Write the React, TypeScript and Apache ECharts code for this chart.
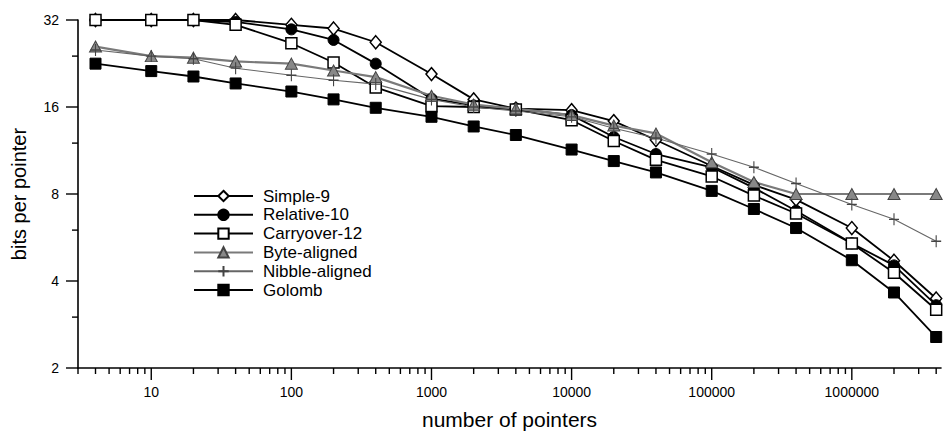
import React, { useEffect, useRef } from 'react';
import * as echarts from 'echarts';

const pointers = [4, 10, 20, 40, 100, 200, 400, 1000, 2000, 4000, 10000, 20000, 40000, 100000, 200000, 400000, 1000000, 2000000, 4000000];
const simple9 = [32, 32, 32, 32, 30.8, 29.9, 26.8, 20.8, 17.0, 15.8, 15.6, 14.3, 12.3, 10.0, 8.6, 7.65, 6.1, 4.7, 3.48];
const relative10 = [32, 32, 32, 31.5, 29.7, 27.3, 22.6, 17.1, 16.2, 15.8, 15.0, 12.6, 11.0, 9.9, 8.4, 7.0, 5.4, 4.53, 3.3];
const carryover12 = [32, 32, 32, 30.8, 26.6, 22.8, 18.7, 16.1, 16.0, 15.7, 14.4, 12.2, 10.5, 9.2, 7.9, 6.85, 5.39, 4.27, 3.18];
const byteAligned = [25.9, 24.0, 23.7, 23.0, 22.6, 21.4, 20.3, 17.5, 16.3, 15.8, 15.0, 13.8, 12.96, 10.3, 8.8, 8.0, 8.0, 8.0, 8.0];
const nibbleAligned = [25.2, 24.0, 23.5, 21.8, 20.6, 19.8, 19.2, 17.0, 16.0, 15.5, 14.8, 13.5, 12.5, 11.0, 9.9, 8.7, 7.36, 6.54, 5.49];
const golomb = [22.6, 21.3, 20.4, 19.3, 18.1, 17.0, 15.9, 14.8, 13.7, 12.8, 11.4, 10.4, 9.5, 8.2, 7.1, 6.1, 4.72, 3.65, 2.56];

const yMajorTicks = [2, 4, 8, 16, 32];
const yMinorTicks = [3, 6, 12, 24];
const xMajorTicks = [10, 100, 1000, 10000, 100000, 1000000];

const FONT = '"Liberation Sans", Arial, Helvetica, sans-serif';
const CROSS = 'path://M5 0 L5 12 M0 6 L10 6';

function pairs(ys: number[]) {
  return pointers.map((x, i) => [x, ys[i]]);
}

export default function App() {
  const ref = useRef<HTMLDivElement>(null);
  useEffect(() => {
    if (!ref.current) return;
    const chart = echarts.init(ref.current, undefined, { renderer: 'svg' });
    const blackLine = { color: '#000', width: 1.8 };
    const option: any = {
      animation: false,
      backgroundColor: '#fff',
      textStyle: { fontFamily: FONT },
      grid: { left: 78, right: 2, top: 20, bottom: 64, containLabel: false, outerBoundsMode: 'none' },
      xAxis: {
        type: 'log',
        logBase: 10,
        min: 3,
        max: 4330000,
        name: 'number of pointers',
        nameLocation: 'middle',
        nameGap: 41,
        nameTextStyle: { fontSize: 21, color: '#000', fontFamily: FONT },
        axisLine: { show: true, lineStyle: { color: '#000', width: 1.6 } },
        axisTick: { show: false },
        splitLine: { show: false },
        axisLabel: {
          showMinLabel: false,
          showMaxLabel: false,
          margin: 17,
          fontSize: 14,
          color: '#000',
          fontFamily: FONT,
          formatter: (v: number) => String(Math.round(v)),
        },
      },
      yAxis: {
        type: 'log',
        logBase: 2,
        min: 2,
        max: 32,
        name: 'bits per pointer',
        nameLocation: 'middle',
        nameGap: 49,
        nameTextStyle: { fontSize: 20, color: '#000', fontFamily: FONT },
        axisLine: { show: true, lineStyle: { color: '#000', width: 1.6 } },
        axisTick: { show: false },
        splitLine: { show: false },
        axisLabel: {
          margin: 19,
          fontSize: 14,
          color: '#000',
          fontFamily: FONT,
          formatter: (v: number) => String(Math.round(v)),
        },
      },
      legend: {
        orient: 'vertical',
        left: 188,
        top: 182.5,
        itemWidth: 59,
        itemHeight: 13,
        itemGap: 1.8,
        textStyle: { fontSize: 17, color: '#000', fontFamily: FONT, padding: [0, 0, 0, 5] },
        data: ['Simple-9', 'Relative-10', 'Carryover-12', 'Byte-aligned', 'Nibble-aligned', 'Golomb'],
      },
      series: [
        {
          name: 'Simple-9', type: 'line', data: pairs(simple9),
          symbol: 'diamond', symbolSize: [11, 13],
          lineStyle: blackLine,
          itemStyle: { color: '#fff', borderColor: '#000', borderWidth: 1.5 },
        },
        {
          name: 'Relative-10', type: 'line', data: pairs(relative10),
          symbol: 'circle', symbolSize: 11,
          lineStyle: blackLine,
          itemStyle: { color: '#000', borderColor: '#000', borderWidth: 1 },
        },
        {
          name: 'Carryover-12', type: 'line', data: pairs(carryover12),
          symbol: 'rect', symbolSize: 11,
          lineStyle: blackLine,
          itemStyle: { color: '#fff', borderColor: '#000', borderWidth: 1.5 },
        },
        {
          name: 'Byte-aligned', type: 'line', data: pairs(byteAligned),
          symbol: 'triangle', symbolSize: [12, 11],
          lineStyle: { color: '#7a7a7a', width: 2.2 },
          itemStyle: { color: '#888', borderColor: '#444', borderWidth: 1 },
        },
        {
          name: 'Nibble-aligned', type: 'line', data: pairs(nibbleAligned),
          symbol: CROSS, symbolSize: [10, 12], symbolKeepAspect: false,
          lineStyle: { color: '#666', width: 1.1 },
          itemStyle: { color: 'none', borderColor: '#444', borderWidth: 1.2 },
        },
        {
          name: 'Golomb', type: 'line', data: pairs(golomb),
          symbol: 'rect', symbolSize: 11,
          lineStyle: blackLine,
          itemStyle: { color: '#000', borderColor: '#000', borderWidth: 1 },
        },
      ],
    };
    chart.setOption(option);

    // Axis ticks drawn from the library's scales
    const x0 = chart.convertToPixel({ xAxisIndex: 0 }, 3) as number;
    const y0 = chart.convertToPixel({ yAxisIndex: 0 }, 2) as number;
    const tickStyle = { stroke: '#000', lineWidth: 1.4 };
    const els: any[] = [];
    yMajorTicks.forEach((v) => {
      const py = chart.convertToPixel({ yAxisIndex: 0 }, v) as number;
      els.push({ type: 'line', shape: { x1: x0 - 12, y1: py, x2: x0, y2: py }, style: tickStyle, silent: true });
    });
    yMinorTicks.forEach((v) => {
      const py = chart.convertToPixel({ yAxisIndex: 0 }, v) as number;
      els.push({ type: 'line', shape: { x1: x0 - 6, y1: py, x2: x0, y2: py }, style: tickStyle, silent: true });
    });
    xMajorTicks.forEach((v) => {
      const px = chart.convertToPixel({ xAxisIndex: 0 }, v) as number;
      els.push({ type: 'line', shape: { x1: px, y1: y0, x2: px, y2: y0 + 12 }, style: tickStyle, silent: true });
    });
    const xMinor: number[] = [];
    [1, 10, 100, 1000, 10000, 100000, 1000000].forEach((p) => {
      for (let m = 2; m <= 9; m++) {
        const v = m * p;
        if (v >= 3 && v <= 4330000) xMinor.push(v);
      }
    });
    xMinor.forEach((v) => {
      const px = chart.convertToPixel({ xAxisIndex: 0 }, v) as number;
      els.push({ type: 'line', shape: { x1: px, y1: y0, x2: px, y2: y0 + 6 }, style: tickStyle, silent: true });
    });
    chart.setOption({ graphic: { elements: els } });

    return () => chart.dispose();
  }, []);
  return <div ref={ref} style={{ position: 'fixed', left: 0, top: 0, width: 943, height: 432 }} />;
}
